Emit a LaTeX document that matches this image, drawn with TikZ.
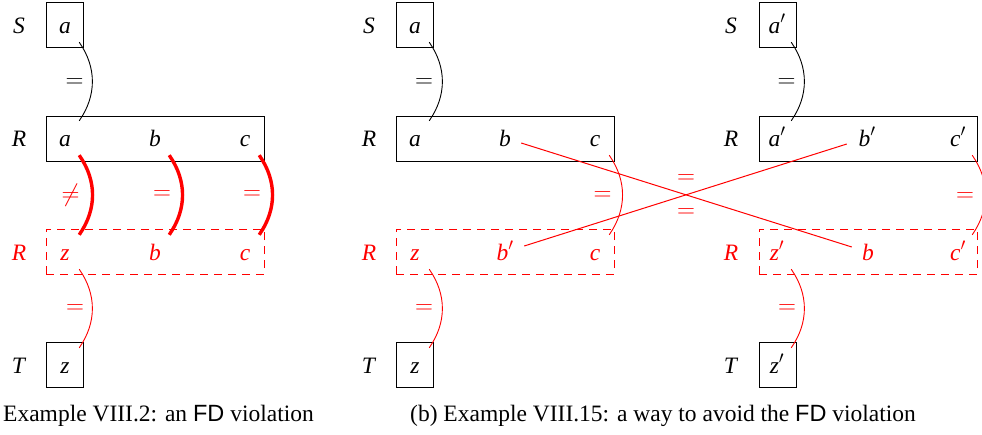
\documentclass[tikz,border=0pt]{standalone}
\usepackage{fontspec}
\setmainfont{Liberation Serif}
\setsansfont{Liberation Sans}
\begin{document}
\begin{tikzpicture}[x=1pt,y=-1pt,
  every node/.style={font=\fontsize{23.5}{28}\selectfont},
  box/.style={draw, line width=1pt, inner sep=0},
  dbox/.style={draw=red, line width=1pt, dash pattern=on 8pt off 6pt, inner sep=0},
  sbox/.style={minimum width=37, minimum height=45},
  wbox/.style={minimum width=218, minimum height=45},
  lt/.style={inner sep=0, minimum width=28, text height=25, text depth=9, anchor=base},
  rowlab/.style={inner sep=0, anchor=base},
  eqlab/.style={inner sep=0},
  link/.style={line width=0.9pt, bend left=35},
  redlink/.style={red, line width=0.9pt, bend left=35},
  fdlink/.style={red, line width=3.4pt, bend left=35},
  cross/.style={red, line width=1pt}]
\useasboundingbox (0,0) rectangle (982,434);

% ---------------- left panel ----------------
\node[rowlab] (LSl) at (19,33) {\textit{S}};
\node[rowlab] (LRl) at (19,146) {\textit{R}};
\node[rowlab, red] (LQl) at (19,260) {\textit{R}};
\node[rowlab] (LTl) at (19,373) {\textit{T}};

\node[box, sbox] (LSbox) at (64.5,24.5) {};
\node[lt] (LSa) at (65,33) {\textit{a}};
\node[box, wbox] (LRbox) at (155,138.5) {};
\node[lt] (LRa) at (65,146) {\textit{a}};
\node[lt] (LRb) at (155,146) {\textit{b}};
\node[lt] (LRc) at (245,146) {\textit{c}};
\node[dbox, wbox] (LQbox) at (155,251.5) {};
\node[lt, red] (LQz) at (65,260) {\textit{z}};
\node[lt, red] (LQb) at (155,260) {\textit{b}};
\node[lt, red] (LQc) at (245,260) {\textit{c}};
\node[box, sbox] (LTbox) at (64.5,364.5) {};
\node[lt] (LTz) at (65,373) {\textit{z}};

\draw[link] (LSa.south east) to (LRa.north east);
\node[eqlab] (Le1) at (74.5,83) {$=$};
\draw[fdlink] (LRa.south east) to (LQz.north east);
\draw[fdlink] (LRb.south east) to (LQb.north east);
\draw[fdlink] (LRc.south east) to (LQc.north east);
\node[eqlab, red] (Le2) at (70.5,195) {$\neq$};
\node[eqlab, red] (Le3) at (162,195) {$=$};
\node[eqlab, red] (Le4) at (252,195) {$=$};
\draw[redlink] (LQz.south east) to (LTz.north east);
\node[eqlab, red] (Le5) at (75,309) {$=$};

\node[inner sep=0, anchor=base west] (Lcap) at (3,421) {Example VIII.2: an {\sffamily FD} violation};

% ---------------- middle panel ----------------
\node[rowlab] (MSl) at (369,33) {\textit{S}};
\node[rowlab] (MRl) at (369,146) {\textit{R}};
\node[rowlab, red] (MQl) at (369,260) {\textit{R}};
\node[rowlab] (MTl) at (369,373) {\textit{T}};

\node[box, sbox] (MSbox) at (414.5,24.5) {};
\node[lt] (MSa) at (415,33) {\textit{a}};
\node[box, wbox] (MRbox) at (505,138.5) {};
\node[lt] (MRa) at (415,146) {\textit{a}};
\node[lt] (MRb) at (505,146) {\textit{b}};
\node[lt] (MRc) at (595,146) {\textit{c}};
\node[dbox, wbox] (MQbox) at (505,251.5) {};
\node[lt, red] (MQz) at (415,260) {\textit{z}};
\node[lt, red] (MQb) at (505,260) {\textit{b}$'$};
\node[lt, red] (MQc) at (595,260) {\textit{c}};
\node[box, sbox] (MTbox) at (414.5,364.5) {};
\node[lt] (MTz) at (415,373) {\textit{z}};

\draw[link] (MSa.south east) to (MRa.north east);
\node[eqlab] (Me1) at (424,83) {$=$};
\draw[redlink] (MRc.south east) to (MQc.north east);
\node[eqlab, red] (Me2) at (602.5,196) {$=$};
\draw[redlink] (MQz.south east) to (MTz.north east);
\node[eqlab, red] (Me3) at (424,309) {$=$};

% ---------------- right panel ----------------
\node[rowlab] (NSl) at (731,33) {\textit{S}};
\node[rowlab] (NRl) at (731,146) {\textit{R}};
\node[rowlab, red] (NQl) at (731,260) {\textit{R}};
\node[rowlab] (NTl) at (731,373) {\textit{T}};

\node[box, sbox] (NSbox) at (777.5,24.5) {};
\node[lt] (NSa) at (777,33) {\textit{a}$'$};
\node[box, wbox] (NRbox) at (868,138.5) {};
\node[lt] (NRa) at (777,146) {\textit{a}$'$};
\node[lt] (NRb) at (867,146) {\textit{b}$'$};
\node[lt] (NRc) at (958,146) {\textit{c}$'$};
\node[dbox, wbox] (NQbox) at (868,251.5) {};
\node[lt, red] (NQz) at (777,260) {\textit{z}$'$};
\node[lt, red] (NQb) at (868,260) {\textit{b}};
\node[lt, red] (NQc) at (958,260) {\textit{c}$'$};
\node[box, sbox] (NTbox) at (777.5,364.5) {};
\node[lt] (NTz) at (777,373) {\textit{z}$'$};

\draw[link] (NSa.south east) to (NRa.north east);
\node[eqlab] (Ne1) at (786.5,83) {$=$};
\draw[redlink] (NRc.south east) to (NQc.north east);
\node[eqlab, red] (Ne2) at (965,197) {$=$};
\draw[redlink] (NQz.south east) to (NTz.north east);
\node[eqlab, red] (Ne3) at (787,309) {$=$};

% ---------------- crossing ----------------
\draw[cross] ([shift={(2,-3)}]MRb.base east) -- ([shift={(-2,-13)}]NQb.base west);
\draw[cross] ([shift={(5,-14)}]MQb.base east) -- ([shift={(-6,-2)}]NRb.base west);
\node[eqlab, red] (Xe1) at (686,179) {$=$};
\node[eqlab, red] (Xe2) at (686,213) {$=$};

\node[inner sep=0, anchor=base west] (Mcap) at (410,421) {(b) Example VIII.15: a way to avoid the {\sffamily FD} violation};
\end{tikzpicture}
\end{document}
